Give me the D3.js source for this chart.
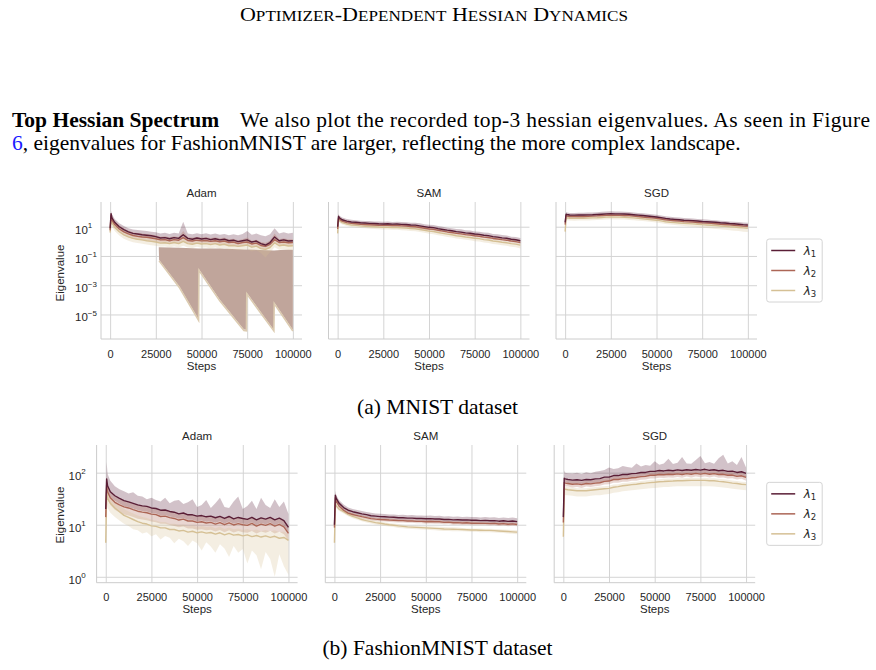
<!DOCTYPE html>
<html>
<head>
<meta charset="utf-8">
<script src="https://cdn.jsdelivr.net/npm/d3@7"></script>
<style>
  html, body { margin: 0; padding: 0; background: #fff; }
  svg { display: block; }
</style>
</head>
<body>
<script>
const W = 876, H = 670;

// recorded steps (shared by every run)
const steps = [0, 500, 1000, 2500, 5000, 7500, 10000, 12500, 15000, 17500,
  20000, 22500, 25000, 27500, 30000, 32500, 35000, 37500, 40000, 42500,
  45000, 47500, 50000, 52500, 55000, 57500, 60000, 62500, 65000, 67500,
  70000, 72500, 75000, 77500, 80000, 82500, 85000, 87500, 90000, 92500,
  95000, 97500, 100000];

const optimizers = ["Adam", "SAM", "SGD"];
const seriesNames = ["1", "2", "3"];            // λ subscripts
const colors = ["#5a1e36", "#ac6656", "#d5c095"];
const xTicks = [0, 25000, 50000, 75000, 100000];
const yTicksMnist = [1e-5, 1e-3, 1e-1, 1e1];
const yTicksFashion = [1e0, 1e1, 1e2];

// ---- MNIST / Adam
const mnistAdamL1 = [7.9, 79, 40, 20, 10, 6.3, 4.5, 3.5, 3.2, 2.8, 2.6, 2.4, 2.1, 1.7, 1.8, 1.5, 1.8, 1.6, 2.8, 1.6, 1.4, 1.7, 1.45, 1.6, 1.3, 1.5, 1.26, 1.4, 1.1, 1.2, 0.95, 1.1, 1.26, 0.9, 1.05, 0.7, 0.56, 0.83, 2.0, 1.1, 1.26, 1.05, 1.1];
const mnistAdamL1Hi = [12, 120, 70, 34, 17, 11, 8, 6.5, 6, 5.5, 5, 4.6, 4.2, 3.4, 3.8, 3.2, 3.8, 3.4, 22, 3.4, 3, 3.6, 3.1, 3.6, 2.9, 3.4, 2.8, 3.2, 2.6, 3, 2.6, 3.2, 5, 2.8, 3.4, 2.6, 2.2, 3, 8, 3.4, 4.2, 3.5, 3.8];
const mnistAdamL1Lo = [5.5, 55, 28, 14, 7, 4.4, 3.2, 2.5, 2.2, 2, 1.8, 1.7, 1.5, 1.2, 1.25, 1.05, 1.25, 1.1, 1.6, 1.1, 0.98, 1.2, 1, 1.1, 0.9, 1.05, 0.88, 0.98, 0.77, 0.84, 0.66, 0.77, 0.85, 0.63, 0.73, 0.49, 0.39, 0.58, 1.2, 0.77, 0.88, 0.73, 0.77];
const mnistAdamL2 = [5.6, 56, 28, 14, 7, 4.5, 3.2, 2.5, 2.2, 2, 1.9, 1.7, 1.5, 1.25, 1.3, 1.1, 1.3, 1.2, 1.8, 1.15, 1.05, 1.2, 1.07, 1.15, 1, 1.1, 0.93, 1.05, 0.83, 0.9, 0.7, 0.83, 0.9, 0.66, 0.76, 0.52, 0.45, 0.63, 1.3, 0.83, 0.9, 0.8, 0.83];
const mnistAdamL2Hi = [9.5, 95, 48, 24, 12, 7.6, 5.4, 4.2, 3.7, 3.4, 3.2, 2.9, 2.6, 2.1, 2.2, 1.9, 2.2, 2, 5, 2, 1.8, 2, 1.8, 2, 1.7, 1.9, 1.6, 1.8, 1.4, 1.5, 1.2, 1.4, 1.8, 1.1, 1.3, 0.9, 0.8, 1.1, 3.5, 1.4, 1.6, 1.4, 1.4];
const mnistAdamL2Lo = [3.4, 34, 17, 8.4, 4.2, 2.7, 1.9, 1.5, 1.3, 1.2, 1.1, 1, 0.9, 0.75, 0.78, 0.66, 0.78, 0.72, 1, 0.69, 0.63, 0.72, 0.64, 0.69, 0.6, 0.66, 0.56, 0.63, 0.5, 0.54, 0.42, 0.5, 0.54, 0.4, 0.46, 0.31, 0.27, 0.38, 0.7, 0.5, 0.54, 0.48, 0.5];
const mnistAdamL3 = [4, 35, 18, 9, 4.5, 2.8, 2, 1.6, 1.4, 1.26, 1.1, 1, 0.9, 0.76, 0.8, 0.7, 0.83, 0.7, 1, 0.7, 0.63, 0.76, 0.66, 0.7, 0.6, 0.7, 0.56, 0.63, 0.5, 0.52, 0.45, 0.5, 0.56, 0.4, 0.47, 0.32, 0.28, 0.38, 0.8, 0.5, 0.56, 0.48, 0.5];
const mnistAdamL3Hi = [6, 52, 27, 13, 6.8, 4.2, 3, 2.4, 2.1, 1.9, 1.65, 1.5, 1.35, 1.15, 1.2, 1.05, 1.25, 1.05, 1.6, 1.05, 0.95, 1.15, 1, 1.05, 0.9, 1.05, 0.84, 0.95, 0.75, 0.78, 0.68, 0.75, 0.84, 0.6, 0.7, 0.48, 0.42, 0.57, 1.2, 0.75, 0.84, 0.72, 0.75];
const mnistAdamL3Lo = [2.2, 19, 10, 5, 2.5, 1.5, 1.1, 0.88, 0.77, 0.69, 0.6, 0.55, 0.5, 0.42, 0.44, 0.38, 0.45, 0.38, 0.5, 0.38, 0.35, 0.42, 0.36, 0.38, 0.33, 0.38, 0.31, 0.35, 0.27, 0.29, 0.25, 0.27, 0.3, 0.2, 0.25, 0.16, 0.08, 0.18, 0.4, 0.27, 0.3, 0.26, 0.27];
// collapsing lower band of the Adam run (sawtooth)
const collapseSteps = [26600, 26800, 38000, 48400, 48600, 60000, 73200, 74600, 74800, 82000, 89600, 89800, 95000, 100000];
const collapseLow = [0.4, 0.054, 7.8e-4, 4.6e-6, 0.0123, 1e-4, 9.5e-7, 8.9e-7, 3e-4, 1.7e-5, 8.7e-7, 6.6e-5, 7.2e-6, 8.7e-7];
const collapseHigh = [0.4, 0.4, 0.36, 0.33, 0.33, 0.32, 0.28, 0.28, 0.28, 0.26, 0.24, 0.24, 0.27, 0.27];

// ---- MNIST / SAM
const mnistSamL1 = [10, 52, 40, 30, 24, 21, 20, 18.6, 17.8, 17, 16.6, 15.8, 15.5, 15.8, 15.1, 15.3, 14.5, 14.3, 13.2, 12.8, 11.5, 10.2, 9.1, 8.6, 7.4, 6.5, 5.8, 5.3, 4.6, 4.3, 3.8, 3.6, 3.2, 3.0, 2.6, 2.45, 2.1, 1.95, 1.74, 1.62, 1.4, 1.28, 1.1];
const mnistSamL1Hi = [14, 75, 56, 42, 34, 30, 28, 26, 25, 24.5, 23, 22.5, 21.5, 23, 21, 22, 21, 20.5, 19, 19, 17, 15, 13.5, 13, 11, 9.8, 8.6, 8, 7, 6.6, 5.8, 5.5, 4.8, 4.6, 4, 3.8, 3.2, 3, 2.7, 2.5, 2.1, 2, 1.7];
const mnistSamL1Lo = [8.2, 43, 33, 25, 20, 17, 16.4, 15.3, 14.6, 14, 13.6, 13, 12.7, 13, 12.4, 12.5, 11.9, 11.7, 10.8, 10.5, 9.4, 8.4, 7.5, 7.1, 6.1, 5.3, 4.8, 4.3, 3.8, 3.5, 3.1, 2.95, 2.6, 2.45, 2.15, 2, 1.72, 1.6, 1.43, 1.33, 1.15, 1.05, 0.9];
const mnistSamL2 = [7, 42, 32, 24, 19, 16.8, 16, 14.9, 14.2, 13.6, 13.2, 12.6, 12.3, 12.5, 12, 12, 11.4, 11.2, 10.3, 9.9, 8.9, 7.9, 7, 6.6, 5.7, 5, 4.4, 4.0, 3.5, 3.25, 2.9, 2.7, 2.4, 2.25, 1.95, 1.83, 1.58, 1.46, 1.3, 1.2, 1.05, 0.96, 0.82];
const mnistSamL2Hi = [8.8, 52, 40, 30, 24, 21, 20, 18.6, 17.8, 17, 16.5, 15.8, 15.4, 15.6, 15, 15, 14.3, 14, 12.9, 12.4, 11.1, 9.9, 8.8, 8.3, 7.1, 6.3, 5.5, 5, 4.4, 4.1, 3.6, 3.4, 3, 2.8, 2.45, 2.3, 2, 1.83, 1.63, 1.5, 1.3, 1.2, 1.03];
const mnistSamL2Lo = [5.6, 34, 26, 19, 15, 13.4, 12.8, 11.9, 11.4, 10.9, 10.6, 10.1, 9.8, 10, 9.6, 9.6, 9.1, 9, 8.2, 7.9, 7.1, 6.3, 5.6, 5.3, 4.6, 4, 3.5, 3.2, 2.8, 2.6, 2.3, 2.2, 1.9, 1.8, 1.56, 1.46, 1.26, 1.17, 1.04, 0.96, 0.84, 0.77, 0.66];
const mnistSamL3 = [3.5, 33, 25, 19, 15, 13, 12.3, 11.4, 10.8, 10.3, 10, 9.5, 9.2, 9.3, 8.9, 8.9, 8.4, 8.2, 7.5, 7.2, 6.4, 5.7, 5, 4.7, 4.0, 3.5, 3.1, 2.8, 2.4, 2.25, 2.0, 1.85, 1.64, 1.53, 1.32, 1.24, 1.06, 0.98, 0.87, 0.8, 0.7, 0.64, 0.55];
const mnistSamL3Hi = [4.4, 41, 31, 24, 19, 16, 15.4, 14.3, 13.5, 12.9, 12.5, 11.9, 11.5, 11.6, 11.1, 11.1, 10.5, 10.3, 9.4, 9, 8, 7.1, 6.3, 5.9, 5, 4.4, 3.9, 3.5, 3, 2.8, 2.5, 2.3, 2.05, 1.9, 1.65, 1.55, 1.33, 1.23, 1.09, 1, 0.88, 0.8, 0.69];
const mnistSamL3Lo = [2.6, 25, 19, 14, 11, 9.6, 9, 8.3, 7.8, 7.4, 7.1, 6.7, 6.5, 6.5, 6.2, 6.2, 5.8, 5.6, 5.1, 4.9, 4.3, 3.8, 3.3, 3.1, 2.6, 2.3, 2, 1.8, 1.55, 1.44, 1.27, 1.17, 1.03, 0.96, 0.82, 0.77, 0.65, 0.6, 0.53, 0.49, 0.42, 0.39, 0.33];

// ---- MNIST / SGD
const mnistSgdL1 = [20, 71, 68, 63, 62, 63, 63, 65, 66, 69, 72, 76, 78, 76, 76, 74, 71, 66, 62, 58, 54, 50, 46, 42, 37, 34, 32, 30, 28, 27, 26, 24.5, 23, 22, 21, 20, 18.6, 17.8, 16.6, 15.8, 14.8, 13.8, 13.2];
const mnistSgdL1Hi = [26, 100, 95, 88, 87, 90, 89, 92, 95, 99, 104, 110, 112, 108, 110, 106, 100, 94, 88, 82, 76, 70, 65, 59, 52, 48, 45, 42, 39, 38, 36, 34, 32, 31, 29, 28, 26, 25, 23, 22, 21, 19.5, 18.5];
const mnistSgdL1Lo = [16, 58, 56, 52, 51, 52, 52, 53, 54, 57, 59, 62, 64, 62, 62, 61, 58, 54, 51, 48, 44, 41, 38, 34, 30, 28, 26, 25, 23, 22, 21, 20, 19, 18, 17.2, 16.4, 15.3, 14.6, 13.6, 13, 12.1, 11.3, 10.8];
const mnistSgdL2 = [14, 57, 54, 50, 50, 50, 50, 52, 53, 55, 58, 61, 62, 61, 61, 59, 57, 53, 50, 46, 43, 40, 37, 34, 30, 27, 25.6, 24, 22.4, 21.6, 20.8, 19.6, 18.4, 17.6, 16.8, 16, 14.9, 14.2, 13.3, 12.6, 11.8, 11, 10.6];
const mnistSgdL2Hi = [17, 68, 65, 60, 60, 60, 60, 62, 64, 66, 70, 73, 74, 73, 73, 71, 68, 64, 60, 55, 52, 48, 44, 41, 36, 32, 31, 29, 27, 26, 25, 23.5, 22, 21, 20, 19.2, 17.9, 17, 16, 15.1, 14.2, 13.2, 12.7];
const mnistSgdL2Lo = [11, 46, 43, 40, 40, 40, 40, 42, 42, 44, 46, 49, 50, 49, 49, 47, 46, 42, 40, 37, 34, 32, 30, 27, 24, 22, 20.5, 19.2, 17.9, 17.3, 16.6, 15.7, 14.7, 14.1, 13.4, 12.8, 11.9, 11.4, 10.6, 10.1, 9.4, 8.8, 8.5];
const mnistSgdL3 = [4.6, 37, 40, 38, 37, 38, 38, 39, 40, 41, 43, 45, 46, 45, 45, 44, 42, 40, 37, 35, 32, 30, 28, 25, 22, 20, 19, 18, 16.8, 16.2, 15.6, 14.7, 13.8, 13.2, 12.6, 12, 11.2, 10.7, 10, 9.5, 8.9, 8.3, 7.9];
const mnistSgdL3Hi = [5.8, 46, 50, 48, 46, 48, 48, 49, 50, 51, 54, 56, 58, 56, 56, 55, 52, 50, 46, 44, 40, 38, 35, 31, 28, 25, 24, 22.5, 21, 20, 19.5, 18.4, 17.2, 16.5, 15.8, 15, 14, 13.4, 12.5, 11.9, 11.1, 10.4, 9.9];
const mnistSgdL3Lo = [3.2, 26, 28, 27, 26, 27, 27, 27, 28, 29, 30, 31, 32, 31, 31, 31, 29, 28, 26, 24.5, 22.4, 21, 19.6, 17.5, 15.4, 14, 13, 12, 11, 10.4, 9.8, 9.2, 8.6, 8.1, 7.6, 7.1, 6.6, 6.2, 5.8, 5.4, 5, 4.6, 4.3];

// ---- FashionMNIST / Adam
const fashionAdamL1 = [20, 76, 56, 43, 36, 32, 29, 27.5, 25.7, 24, 23, 22.5, 21, 20.5, 19, 19.2, 18, 17.4, 16.2, 16.8, 15.5, 15.5, 14.6, 15, 14.2, 14.6, 13.6, 14.5, 13.2, 14.4, 13, 13.8, 13.2, 12.7, 13.9, 12.4, 13.5, 12.8, 13.8, 12.4, 13.4, 12, 8.9];
const fashionAdamL1Hi = [30, 160, 95, 70, 55, 48, 44, 40, 42, 36, 35, 31, 33, 30, 28, 33, 26, 29, 30, 25, 27, 31, 22, 24, 30, 21, 26, 33, 22, 21, 28, 35, 20, 23, 29, 20, 33, 24, 21, 31, 22, 28, 16];
const fashionAdamL1Lo = [15, 60, 45, 34, 29, 25.6, 23, 22, 20.5, 19.2, 18.4, 18, 16.8, 16.4, 15.2, 15.4, 14.4, 13.9, 13, 13.4, 12.4, 12.4, 11.7, 12, 11.4, 11.7, 10.9, 11.6, 10.6, 11.5, 10.4, 11, 10.6, 10.2, 11.1, 9.9, 10.8, 10.2, 11, 9.9, 10.7, 9.6, 7.1];
const fashionAdamL2 = [14, 58, 43, 33, 27, 24, 22, 21, 19.5, 18.2, 17.5, 17, 16, 15.6, 14.4, 14.6, 13.7, 13.2, 12.3, 12.8, 11.8, 11.8, 11.1, 11.4, 10.8, 11.1, 10.3, 11, 10, 10.9, 9.9, 10.5, 10, 9.7, 10.6, 9.4, 10.3, 9.7, 10.5, 9.4, 10.2, 9.1, 6.8];
const fashionAdamL2Hi = [18, 75, 56, 43, 35, 31, 29, 27, 25, 24, 23, 22, 21, 20, 19, 19, 18, 17, 16, 17, 15.3, 15.3, 14.4, 14.8, 14, 14.4, 13.4, 14.3, 13, 14.2, 12.9, 13.7, 13, 12.6, 13.8, 12.2, 13.4, 12.6, 13.7, 12.2, 13.3, 11.8, 8.8];
const fashionAdamL2Lo = [10, 42, 31, 24, 19.4, 17.3, 15.8, 15.1, 14, 13.1, 12.6, 12.2, 11.5, 11.2, 10.4, 10.5, 9.9, 9.5, 8.9, 9.2, 8.5, 8.5, 8, 8.2, 7.8, 8, 7.4, 7.9, 7.2, 7.8, 7.1, 7.6, 7.2, 7, 7.6, 6.8, 7.4, 7, 7.6, 6.8, 7.3, 6.6, 4.9];
const fashionAdamL3 = [4.5, 43, 32, 26, 21, 17.8, 15.1, 13.8, 12.6, 11.5, 10.7, 10.3, 9.5, 9.3, 8.7, 8.7, 8.1, 8.1, 7.6, 7.8, 7.2, 7.5, 7.0, 7.3, 6.9, 7.1, 6.6, 7.0, 6.4, 6.8, 6.3, 6.5, 6.1, 6.4, 5.9, 6.2, 5.8, 6.1, 5.7, 6.0, 5.5, 5.7, 5.0];
const fashionAdamL3Hi = [6, 56, 42, 34, 27, 23, 20, 18, 16.4, 15, 14, 13.4, 12.4, 12.1, 11.3, 11.3, 10.5, 10.5, 9.9, 10.1, 9.4, 9.8, 9.1, 9.5, 9, 9.2, 8.6, 9.1, 8.3, 8.8, 8.2, 8.5, 7.9, 8.3, 7.7, 8.1, 7.5, 7.9, 7.4, 7.8, 7.2, 7.4, 6.5];
const fashionAdamL3Lo = [3, 28, 21, 17, 14, 12, 10.5, 9.5, 8.2, 7.8, 6.8, 7.2, 6, 6.6, 5.2, 6.1, 5.6, 4.4, 5.4, 4.8, 3.9, 5, 4.4, 3.2, 4.6, 3.8, 2.9, 4.2, 3.5, 2.4, 3.9, 2.9, 3.4, 1.8, 3.2, 2.6, 1.4, 3, 2.2, 1.0, 2.7, 1.6, 1.1];

// ---- FashionMNIST / SAM
const fashionSamL1 = [10, 37, 32, 26, 21.4, 19, 17.8, 17, 16.2, 15.6, 14.9, 14.6, 14.3, 14.2, 14, 13.9, 13.6, 13.6, 13.4, 13.4, 13.2, 13.2, 13, 13.1, 12.9, 12.9, 12.6, 12.7, 12.4, 12.5, 12.3, 12.4, 12.2, 12.2, 12, 12.1, 11.9, 12, 11.7, 11.9, 11.6, 11.8, 11.5];
const fashionSamL1Hi = [12, 45, 37, 30, 24.5, 21.5, 20, 19.2, 18.3, 17.6, 16.9, 16.5, 16.2, 16.1, 15.8, 15.8, 15.4, 15.5, 15.2, 15.3, 15, 15.1, 14.8, 15, 14.7, 14.8, 14.4, 14.6, 14.2, 14.4, 14.1, 14.3, 14, 14.1, 13.8, 14, 13.7, 13.9, 13.5, 13.8, 13.4, 13.7, 13.3];
const fashionSamL1Lo = [9, 33, 29, 23.4, 19.3, 17.1, 16, 15.3, 14.6, 14, 13.4, 13.1, 12.9, 12.8, 12.6, 12.5, 12.2, 12.2, 12.1, 12.1, 11.9, 11.9, 11.7, 11.8, 11.6, 11.6, 11.3, 11.4, 11.2, 11.3, 11.1, 11.2, 11, 11, 10.8, 10.9, 10.7, 10.8, 10.5, 10.7, 10.4, 10.6, 10.4];
const fashionSamL2 = [8.8, 33, 28, 23, 19, 16.7, 15.7, 15, 14.3, 13.7, 13.1, 12.8, 12.6, 12.5, 12.3, 12.2, 12, 12, 11.8, 11.8, 11.6, 11.6, 11.4, 11.5, 11.4, 11.4, 11.1, 11.2, 10.9, 11, 10.8, 10.9, 10.7, 10.7, 10.6, 10.6, 10.5, 10.6, 10.3, 10.5, 10.2, 10.4, 10.1];
const fashionSamL2Hi = [9.5, 36, 30, 25, 20.5, 18, 17, 16.2, 15.4, 14.8, 14.1, 13.8, 13.6, 13.5, 13.3, 13.2, 13, 13, 12.7, 12.7, 12.5, 12.5, 12.3, 12.4, 12.3, 12.3, 12, 12.1, 11.8, 11.9, 11.7, 11.8, 11.6, 11.6, 11.4, 11.4, 11.3, 11.4, 11.1, 11.3, 11, 11.2, 10.9];
const fashionSamL2Lo = [8.1, 30, 26, 21, 17.5, 15.4, 14.4, 13.8, 13.2, 12.6, 12.1, 11.8, 11.6, 11.5, 11.3, 11.2, 11, 11, 10.9, 10.9, 10.7, 10.7, 10.5, 10.6, 10.5, 10.5, 10.2, 10.3, 10, 10.1, 9.9, 10, 9.8, 9.8, 9.8, 9.8, 9.7, 9.8, 9.5, 9.7, 9.4, 9.6, 9.3];
const fashionSamL3 = [4.5, 26, 23, 20, 17.8, 15.8, 14.5, 13.5, 12.6, 12, 11.5, 11, 10.7, 10.3, 10, 9.8, 9.5, 9.3, 9.1, 9, 8.9, 8.8, 8.7, 8.6, 8.5, 8.4, 8.3, 8.25, 8.2, 8.15, 8.1, 8, 7.9, 7.9, 7.85, 7.8, 7.8, 7.7, 7.6, 7.5, 7.4, 7.3, 7.2];
const fashionSamL3Hi = [5, 29, 25, 21.6, 19.2, 17, 15.7, 14.6, 13.6, 13, 12.4, 11.9, 11.6, 11.1, 10.8, 10.6, 10.3, 10, 9.8, 9.7, 9.6, 9.5, 9.4, 9.3, 9.2, 9.1, 9, 8.9, 8.9, 8.8, 8.7, 8.6, 8.5, 8.5, 8.5, 8.4, 8.4, 8.3, 8.2, 8.1, 8, 7.9, 7.8];
const fashionSamL3Lo = [4, 24, 21, 18.4, 16.4, 14.5, 13.3, 12.4, 11.6, 11, 10.6, 10.1, 9.8, 9.5, 9.2, 9, 8.7, 8.6, 8.4, 8.3, 8.2, 8.1, 8, 7.9, 7.8, 7.7, 7.6, 7.6, 7.5, 7.5, 7.5, 7.4, 7.3, 7.3, 7.2, 7.2, 7.2, 7.1, 7, 6.9, 6.8, 6.7, 6.6];

// ---- FashionMNIST / SGD
const fashionSgdL1 = [14, 78, 76, 74, 72, 73, 71, 74, 73, 76, 77, 82, 82, 88, 88, 92, 92, 96, 97, 101, 101, 106, 106, 110, 108, 111, 109, 113, 110, 114, 111, 115, 112, 116, 111, 114, 109, 111, 106, 107, 101, 104, 97];
const fashionSgdL1Hi = [17, 110, 100, 98, 96, 100, 94, 102, 97, 104, 108, 112, 125, 118, 122, 135, 128, 124, 150, 132, 140, 136, 165, 142, 150, 185, 146, 155, 200, 150, 148, 175, 210, 152, 160, 148, 190, 220, 150, 165, 140, 200, 125];
const fashionSgdL1Lo = [12, 66, 65, 63, 61, 62, 60, 63, 62, 65, 65, 70, 70, 75, 75, 78, 78, 82, 82, 86, 86, 90, 90, 94, 92, 94, 93, 96, 94, 97, 94, 98, 95, 99, 94, 97, 93, 94, 90, 91, 86, 88, 82];
const fashionSgdL2 = [11, 65, 63, 62, 60, 61, 59, 62, 61, 63, 64, 68, 69, 74, 74, 77, 77, 80, 81, 84, 85, 89, 89, 92, 91, 93, 92, 95, 92, 96, 93, 97, 94, 97, 93, 96, 92, 93, 89, 90, 85, 87, 81];
const fashionSgdL2Hi = [13, 75, 73, 71, 69, 70, 68, 71, 70, 73, 74, 78, 79, 85, 85, 89, 89, 92, 93, 97, 98, 102, 102, 106, 105, 107, 106, 109, 106, 110, 107, 112, 108, 112, 107, 110, 106, 107, 102, 104, 98, 100, 93];
const fashionSgdL2Lo = [9.6, 57, 55, 54, 52, 53, 51, 54, 53, 55, 56, 59, 60, 64, 64, 67, 67, 70, 70, 73, 74, 77, 77, 80, 79, 81, 80, 83, 80, 84, 81, 84, 82, 84, 81, 84, 80, 81, 77, 78, 74, 76, 70];
const fashionSgdL3 = [5.9, 50, 48, 47, 46, 45, 45, 45, 46, 47, 48, 49, 50, 52.5, 54, 56, 57.5, 59, 60, 62, 63, 64.5, 65.5, 67, 67.5, 68.5, 69, 70, 70, 70.5, 71, 71, 71, 71, 70, 70, 68, 67, 65, 63, 62, 60, 59];
const fashionSgdL3Hi = [6.6, 56, 54, 53, 52, 50, 50, 50, 52, 53, 54, 55, 56, 59, 60, 63, 64, 66, 67, 69, 71, 72, 73, 75, 76, 77, 77, 78, 78, 79, 80, 80, 80, 80, 78, 78, 76, 75, 73, 71, 69, 67, 66];
const fashionSgdL3Lo = [4.6, 39, 37, 37, 36, 35, 35, 35, 36, 37, 37, 38, 39, 41, 42, 44, 45, 46, 47, 48, 49, 50, 51, 52, 53, 53, 54, 55, 55, 55, 55, 55, 55, 55, 55, 54, 53, 52, 51, 49, 48, 47, 46];

const serif = "'Liberation Serif', 'Times New Roman', serif";
const sans = "'Liberation Sans', Arial, sans-serif";
const textColor = "#262626";
const gridColor = "#d4d4d4";
const pw = 201;   // plot width of one panel

const rows = [
  { top: 202, bottom: 339, lefts: [101, 328.5, 556], yDomain: [2.1e-7, 490], yTicks: yTicksMnist,
    tickLabelX: 75, ylabelY: 273, caption: "(a) MNIST dataset", captionY: 414,
    panels: [
      [[mnistAdamL1, mnistAdamL1Lo, mnistAdamL1Hi], [mnistAdamL2, mnistAdamL2Lo, mnistAdamL2Hi], [mnistAdamL3, mnistAdamL3Lo, mnistAdamL3Hi]],
      [[mnistSamL1, mnistSamL1Lo, mnistSamL1Hi], [mnistSamL2, mnistSamL2Lo, mnistSamL2Hi], [mnistSamL3, mnistSamL3Lo, mnistSamL3Hi]],
      [[mnistSgdL1, mnistSgdL1Lo, mnistSgdL1Hi], [mnistSgdL2, mnistSgdL2Lo, mnistSgdL2Hi], [mnistSgdL3, mnistSgdL3Lo, mnistSgdL3Hi]]
    ] },
  { top: 445, bottom: 582.7, lefts: [96.6, 325.3, 554.2], yDomain: [0.77, 340], yTicks: yTicksFashion,
    tickLabelX: 68.5, ylabelY: 515, caption: "(b) FashionMNIST dataset", captionY: 655,
    panels: [
      [[fashionAdamL1, fashionAdamL1Lo, fashionAdamL1Hi], [fashionAdamL2, fashionAdamL2Lo, fashionAdamL2Hi], [fashionAdamL3, fashionAdamL3Lo, fashionAdamL3Hi]],
      [[fashionSamL1, fashionSamL1Lo, fashionSamL1Hi], [fashionSamL2, fashionSamL2Lo, fashionSamL2Hi], [fashionSamL3, fashionSamL3Lo, fashionSamL3Hi]],
      [[fashionSgdL1, fashionSgdL1Lo, fashionSgdL1Hi], [fashionSgdL2, fashionSgdL2Lo, fashionSgdL2Hi], [fashionSgdL3, fashionSgdL3Lo, fashionSgdL3Hi]]
    ] }
];

const svg = d3.select("body").append("svg")
  .attr("width", W).attr("height", H)
  .attr("font-family", sans);

// Page header in small caps: [text, is capital]
const headerParts = [["O", 1], ["PTIMIZER", 0], ["-D", 1], ["EPENDENT", 0], [" H", 1], ["ESSIAN", 0], [" D", 1], ["YNAMICS", 0]];
const header = svg.append("text")
  .attr("x", 434).attr("y", 20.5).attr("text-anchor", "middle")
  .attr("font-family", serif).attr("fill", "#000")
  .attr("textLength", 388).attr("lengthAdjust", "spacingAndGlyphs")
  .style("white-space", "pre");
headerParts.forEach(([t, big]) => header.append("tspan").attr("font-size", big ? 18 : 14).text(t));

const para = svg.append("g").attr("font-family", serif).attr("font-size", 21.5).attr("fill", "#000");
para.append("text").attr("x", 12).attr("y", 127).attr("font-weight", "bold").text("Top Hessian Spectrum");
para.append("text").attr("x", 240).attr("y", 127)
  .attr("textLength", 630).attr("lengthAdjust", "spacing")
  .text("We also plot the recorded top-3 hessian eigenvalues.  As seen in Figure");
const line2 = para.append("text").attr("x", 12).attr("y", 150);
line2.append("tspan").attr("fill", "#1a1aff").text("6");
line2.append("tspan").text(", eigenvalues for FashionMNIST are larger, reflecting the more complex landscape.");

const defs = svg.append("defs");

function supLabel(sel, d) {
  const e = Math.round(Math.log10(d));
  sel.append("tspan").text("10");
  sel.append("tspan").attr("font-size", 8).attr("dy", -5.5).text(e < 0 ? "\u2212" + (-e) : String(e));
}

rows.forEach((row, ri) => {
  const ph = row.bottom - row.top;
  row.panels.forEach((series, ci) => {
    const left = row.lefts[ci];
    const x = d3.scaleLinear().domain([-5000, 105000]).range([left, left + pw]);
    const y = d3.scaleLog().domain(row.yDomain).range([row.bottom, row.top]);
    const g = svg.append("g");

    // vertical grid + x tick labels
    g.append("g")
      .attr("transform", `translate(0,${row.bottom})`)
      .call(d3.axisBottom(x).tickValues(xTicks).tickSize(-ph).tickFormat(d3.format("d")))
      .call(a => {
        a.attr("font-family", sans).attr("font-size", 11);
        a.select(".domain").remove();
        a.selectAll("line").attr("stroke", gridColor);
        a.selectAll("text").attr("y", 18.5).attr("dy", 0).attr("fill", textColor);
      });

    // horizontal grid
    const ya = g.append("g")
      .attr("transform", `translate(${left},0)`)
      .call(d3.axisLeft(y).tickValues(row.yTicks).tickSize(-pw).tickFormat(""))
      .call(a => {
        a.select(".domain").remove();
        a.selectAll("line").attr("stroke", gridColor);
        a.selectAll("text").remove();
      });
    if (ci === 0) {
      ya.selectAll(".tick").append("text")
        .attr("x", row.tickLabelX - left).attr("y", 6.5)
        .attr("text-anchor", "start").attr("fill", textColor)
        .attr("font-family", sans).attr("font-size", 11.5)
        .each(function (d) { supLabel(d3.select(this), d); });
      svg.append("text")
        .attr("transform", `translate(63.5,${row.ylabelY}) rotate(-90)`)
        .attr("text-anchor", "middle").attr("fill", textColor).attr("font-size", 11.5)
        .text("Eigenvalue");
    }

    // spines
    g.append("line").attr("x1", left).attr("x2", left).attr("y1", row.top).attr("y2", row.bottom)
      .attr("stroke", "#cccccc");
    g.append("line").attr("x1", left).attr("x2", left + pw).attr("y1", row.bottom).attr("y2", row.bottom)
      .attr("stroke", "#cccccc");

    const clipId = `clip-${ri}-${ci}`;
    defs.append("clipPath").attr("id", clipId).append("rect")
      .attr("x", left).attr("y", row.top).attr("width", pw).attr("height", ph);
    const plot = g.append("g").attr("clip-path", `url(#${clipId})`);

    if (ri === 0 && ci === 0) {
      const cd = collapseSteps.map((s, i) => ({ s, lo: collapseLow[i], hi: collapseHigh[i] }));
      plot.append("path").datum(cd)
        .attr("fill", "#c0a59b")
        .attr("d", d3.area().x(d => x(d.s)).y0(d => y(d.lo)).y1(d => y(d.hi)));
      plot.append("path").datum(cd.slice(1))
        .attr("fill", "none").attr("stroke", "#dccbb0").attr("stroke-width", 1.6)
        .attr("transform", "translate(0,1)")
        .attr("d", d3.line().x(d => x(d.s)).y(d => y(d.lo)));
    }

    const data = series.map(([m, lo, hi]) => steps.map((s, i) => ({ s, m: m[i], lo: lo[i], hi: hi[i] })));

    data.forEach((d, k) => {
      plot.append("path").datum(d)
        .attr("fill", colors[k]).attr("fill-opacity", 0.27)
        .attr("d", d3.area().x(p => x(p.s)).y0(p => y(p.lo)).y1(p => y(p.hi)));
    });
    [2, 1, 0].forEach(k => {
      plot.append("path").datum(data[k])
        .attr("fill", "none").attr("stroke", colors[k]).attr("stroke-width", 1.4)
        .attr("stroke-linejoin", "round")
        .attr("d", d3.line().x(p => x(p.s)).y(p => y(p.m)));
    });

    // title and x label
    g.append("text").attr("x", left + pw / 2).attr("y", row.top - 5)
      .attr("text-anchor", "middle").attr("fill", textColor).attr("font-size", 11.5)
      .text(optimizers[ci]);
    g.append("text").attr("x", left + pw / 2).attr("y", row.bottom + 30.5)
      .attr("text-anchor", "middle").attr("fill", textColor).attr("font-size", 11.5)
      .text("Steps");
  });

  // legend
  const cy = (row.top + row.bottom) / 2;
  const lg = svg.append("g").attr("transform", `translate(766.7,${cy})`);
  lg.append("rect").attr("x", 0).attr("y", -31.5).attr("width", 55.5).attr("height", 63)
    .attr("rx", 2.5).attr("fill", "#fff").attr("stroke", "#d4d4d4");
  seriesNames.forEach((nm, k) => {
    const yy = -20 + k * 20;
    lg.append("line").attr("x1", 4.5).attr("x2", 28.5).attr("y1", yy).attr("y2", yy)
      .attr("stroke", colors[k]).attr("stroke-width", 1.5);
    const t = lg.append("text").attr("x", 37).attr("y", yy + 4)
      .attr("fill", textColor).attr("font-family", "'DejaVu Sans', sans-serif").attr("font-size", 12);
    t.append("tspan").attr("font-style", "italic").text("\u03bb");
    t.append("tspan").attr("font-size", 8.5).attr("dy", 2.5).text(nm);
  });

  svg.append("text").attr("x", 437.5).attr("y", row.captionY)
    .attr("text-anchor", "middle").attr("font-family", serif).attr("font-size", 21.5)
    .text(row.caption);
});
</script>
</body>
</html>
